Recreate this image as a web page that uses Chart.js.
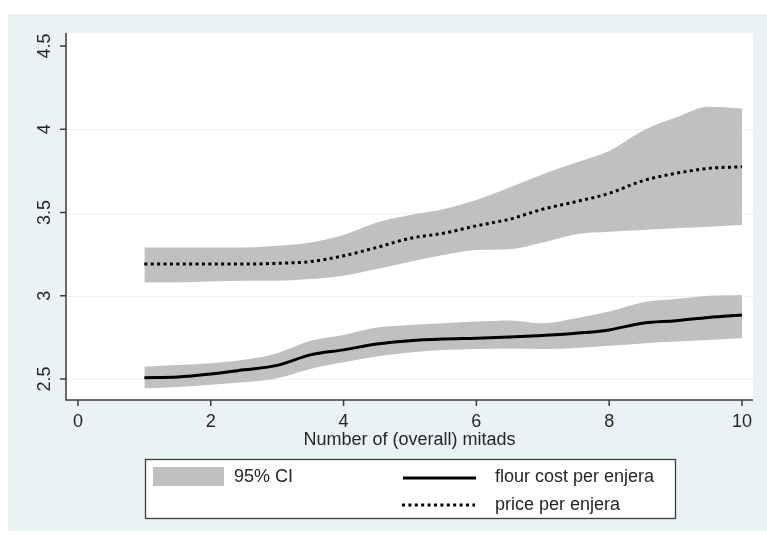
<!DOCTYPE html>
<html>
<head>
<meta charset="utf-8">
<script src="https://cdn.jsdelivr.net/npm/chart.js@4/dist/chart.umd.min.js"></script>
<style>
  html, body { margin: 0; padding: 0; background: #ffffff; }
  #wrap { width: 767px; height: 536px; position: relative; }
</style>
</head>
<body>
<div id="wrap"><canvas id="c" width="767" height="536"></canvas></div>
<script>
// Local polynomial fits of enjera costs and prices against number of mitads
const mitads = [1, 1.5, 2, 2.5, 3, 3.5, 4, 4.5, 5, 5.5, 6, 6.5, 7, 7.5, 8, 8.5, 9, 9.5, 10];

const flourCost = [2.508, 2.512, 2.530, 2.555, 2.582, 2.645, 2.675, 2.710, 2.730, 2.740,
                   2.745, 2.752, 2.762, 2.775, 2.795, 2.835, 2.850, 2.870, 2.885];
const flourHigh = [2.574, 2.584, 2.594, 2.615, 2.655, 2.730, 2.765, 2.810, 2.825, 2.835,
                   2.845, 2.852, 2.835, 2.865, 2.905, 2.960, 2.980, 3.000, 3.005];
const flourLow  = [2.444, 2.452, 2.465, 2.480, 2.505, 2.560, 2.600, 2.635, 2.660, 2.674,
                   2.680, 2.684, 2.680, 2.686, 2.700, 2.714, 2.725, 2.735, 2.745];

const price     = [3.190, 3.190, 3.190, 3.190, 3.195, 3.205, 3.240, 3.290, 3.345, 3.375,
                   3.420, 3.460, 3.520, 3.565, 3.615, 3.690, 3.735, 3.765, 3.775];
const priceHigh = [3.290, 3.290, 3.290, 3.290, 3.300, 3.320, 3.365, 3.440, 3.485, 3.520,
                   3.575, 3.650, 3.730, 3.800, 3.870, 3.990, 4.070, 4.135, 4.125];
const priceLow  = [3.080, 3.080, 3.085, 3.090, 3.090, 3.100, 3.120, 3.160, 3.205, 3.245,
                   3.275, 3.280, 3.320, 3.370, 3.385, 3.395, 3.405, 3.415, 3.425];

const xTicks = [0, 2, 4, 6, 8, 10];
const yTicks = [2.5, 3, 3.5, 4, 4.5];
const yGridTicks = [2.5, 3, 3.5, 4];
const xTitle = 'Number of (overall) mitads';
const ciLabel = '95% CI';
const flourLabel = 'flour cost per enjera';
const priceLabel = 'price per enjera';

const pts = ys => mitads.map((x, i) => ({ x: x, y: ys[i] }));

const BAND = 'rgb(192,192,192)';
const PANEL = '#eaf2f3';
const INK = '#262626';
const AXIS = '#3c3c3c';
const FONT = '18px "Liberation Sans", Arial, sans-serif';

const stataFrame = {
  id: 'stataFrame',
  beforeDraw(chart) {
    const { ctx, chartArea: a, scales: { y } } = chart;
    ctx.save();
    ctx.fillStyle = '#ffffff';
    ctx.fillRect(0, 0, chart.width, chart.height);
    ctx.fillStyle = PANEL;
    ctx.fillRect(8, 14, chart.width - 8, 517);
    ctx.fillStyle = '#ffffff';
    ctx.fillRect(a.left, a.top, a.right - a.left, a.bottom - a.top);
    // horizontal grid
    ctx.strokeStyle = PANEL;
    ctx.lineWidth = 1;
    yGridTicks.forEach(v => {
      const py = Math.round(y.getPixelForValue(v)) + 0.5;
      ctx.beginPath();
      ctx.moveTo(a.left, py);
      ctx.lineTo(a.right, py);
      ctx.stroke();
    });
    ctx.restore();
  },
  afterDraw(chart) {
    const { ctx, chartArea: a, scales: { x, y } } = chart;
    ctx.save();
    // axis lines
    ctx.strokeStyle = AXIS;
    ctx.lineWidth = 1.5;
    ctx.beginPath();
    ctx.moveTo(a.left, a.top);
    ctx.lineTo(a.left, a.bottom);
    ctx.lineTo(a.right, a.bottom);
    ctx.stroke();
    // y ticks and rotated labels
    ctx.fillStyle = INK;
    ctx.font = FONT;
    ctx.textAlign = 'center';
    ctx.textBaseline = 'middle';
    yTicks.forEach(v => {
      const py = y.getPixelForValue(v);
      ctx.beginPath();
      ctx.moveTo(a.left - 6, py);
      ctx.lineTo(a.left, py);
      ctx.stroke();
      ctx.save();
      ctx.translate(44, py);
      ctx.rotate(-Math.PI / 2);
      ctx.fillText(String(v), 0, 1);
      ctx.restore();
    });
    // x ticks and labels
    xTicks.forEach(v => {
      const px = x.getPixelForValue(v);
      ctx.beginPath();
      ctx.moveTo(px, a.bottom);
      ctx.lineTo(px, a.bottom + 6);
      ctx.stroke();
      ctx.fillText(String(v), px, 422);
    });
    ctx.fillText(xTitle, (a.left + a.right) / 2, 440);

    // legend
    const L = 145, T = 459, R = 676, B = 519;
    ctx.fillStyle = '#ffffff';
    ctx.fillRect(L, T, R - L, B - T);
    ctx.strokeStyle = AXIS;
    ctx.lineWidth = 1.3;
    ctx.strokeRect(L + 0.5, T + 0.5, R - L - 1, B - T - 1);
    ctx.fillStyle = BAND;
    ctx.fillRect(153, 467, 71, 19);
    ctx.fillStyle = INK;
    ctx.textAlign = 'left';
    ctx.fillText(ciLabel, 234, 477);
    ctx.fillText(flourLabel, 495, 477);
    ctx.fillText(priceLabel, 495, 505);
    ctx.strokeStyle = '#000000';
    ctx.lineWidth = 3;
    ctx.beginPath();
    ctx.moveTo(403, 478);
    ctx.lineTo(476, 478);
    ctx.stroke();
    ctx.setLineDash([3, 3.4]);
    ctx.beginPath();
    ctx.moveTo(402, 505);
    ctx.lineTo(475, 505);
    ctx.stroke();
    ctx.restore();
  }
};

const bandStyle = { borderWidth: 0, borderColor: BAND, backgroundColor: BAND,
                    pointRadius: 0, order: 1, cubicInterpolationMode: 'monotone' };

new Chart(document.getElementById('c'), {
  type: 'line',
  data: {
    datasets: [
      { label: flourLabel, data: pts(flourCost), borderColor: '#000000', borderWidth: 3,
        pointRadius: 0, fill: false, order: 0, cubicInterpolationMode: 'monotone' },
      { label: priceLabel, data: pts(price), borderColor: '#000000', borderWidth: 3,
        borderDash: [3, 3.4], pointRadius: 0, fill: false, order: 0,
        cubicInterpolationMode: 'monotone' },
      Object.assign({ label: ciLabel, data: pts(priceHigh), fill: '+1' }, bandStyle),
      Object.assign({ label: ciLabel, data: pts(priceLow), fill: false }, bandStyle),
      Object.assign({ label: ciLabel, data: pts(flourHigh), fill: '+1' }, bandStyle),
      Object.assign({ label: ciLabel, data: pts(flourLow), fill: false }, bandStyle)
    ]
  },
  options: {
    responsive: false,
    animation: false,
    layout: { padding: { left: 66, top: 33, right: 14, bottom: 136 } },
    scales: {
      x: { type: 'linear', min: -0.18, max: 10.166, display: false },
      y: { type: 'linear', min: 2.374, max: 4.578, display: false }
    },
    plugins: {
      legend: { display: false },
      tooltip: { enabled: false },
      filler: { drawTime: 'beforeDatasetsDraw' }
    }
  },
  plugins: [stataFrame]
});
</script>
</body>
</html>
